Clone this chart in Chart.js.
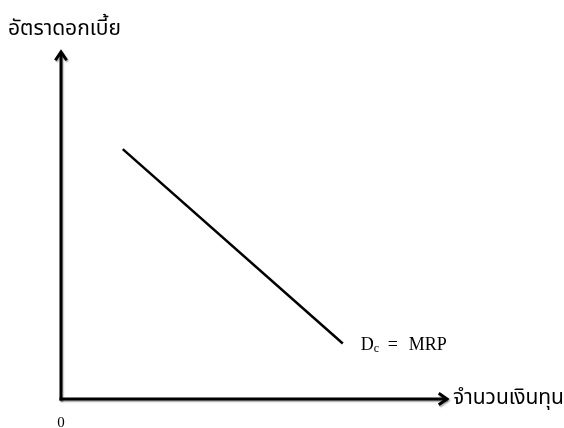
<!DOCTYPE html>
<html>
<head>
<meta charset="utf-8">
<script src="https://cdn.jsdelivr.net/npm/chart.js@4"></script>
<style>
  html, body { margin: 0; padding: 0; background: #fff; }
  #wrap { width: 564px; height: 428px; }
</style>
</head>
<body>
<div id="wrap"><canvas id="c" width="564" height="428"></canvas></div>
<script>
	// ******************************************************** DATA

	var demandX = [16, 73];
	var demandY = [72, 16];
	var yTitle = 'อัตราดอกเบี้ย';
	var xTitle = 'จำนวนเงินทุน';
	var originLabel = '0';
	var curveLabel = ['D', 'c', '=', 'MRP'];

	var points = demandX.map(function (x, i) { return {x: x, y: demandY[i]}; });

	// ******************************************************** AXES + TEXT

	function arrow(ctx, x1, y1, x2, y2) {
		var a = Math.atan2(y2 - y1, x2 - x1), h = 10;
		ctx.beginPath();
		ctx.moveTo(x1, y1);
		ctx.lineTo(x2, y2);
		ctx.stroke();
		ctx.beginPath();
		ctx.moveTo(x2 - h * Math.cos(a - 0.6), y2 - h * Math.sin(a - 0.6));
		ctx.lineTo(x2, y2);
		ctx.lineTo(x2 - h * Math.cos(a + 0.6), y2 - h * Math.sin(a + 0.6));
		ctx.stroke();
	}

	var axesPlugin = {
		id: 'axes',
		afterDraw: function (chart) {
			var ctx = chart.ctx, xs = chart.scales.x, ys = chart.scales.y;
			var x0 = xs.getPixelForValue(0), y0 = ys.getPixelForValue(0);
			var xEnd = xs.getPixelForValue(100), yEnd = ys.getPixelForValue(100);
			ctx.save();
			ctx.strokeStyle = '#000';
			ctx.lineWidth = 3;
			ctx.lineCap = 'butt';
			ctx.lineJoin = 'miter';
			ctx.shadowColor = 'rgba(0,0,0,0.35)';
			ctx.shadowOffsetX = 1;
			ctx.shadowOffsetY = 1.5;
			ctx.shadowBlur = 1.5;
			arrow(ctx, x0, y0 + 1.5, x0, yEnd);
			arrow(ctx, x0 - 1.5, y0, xEnd, y0);
			ctx.restore();

			ctx.save();
			ctx.fillStyle = '#000';
			ctx.textBaseline = 'middle';
			ctx.font = '21px "Noto Sans Thai", "Noto Sans", "DejaVu Sans", sans-serif';
			ctx.textAlign = 'left';
			ctx.fillText(yTitle, 8, 31);
			ctx.fillText(xTitle, xEnd + 6, y0 + 1);

			ctx.font = '15px "Liberation Serif", serif';
			ctx.textAlign = 'center';
			ctx.fillText(originLabel, x0, y0 + 24);

			// Dc = MRP, placed just right of the lower end of the curve
			var lx = xs.getPixelForValue(demandX[1]) + 18;
			var ly = ys.getPixelForValue(demandY[1]) + 2;
			ctx.textAlign = 'left';
			ctx.font = '18px "Liberation Serif", serif';
			ctx.fillText(curveLabel[0], lx, ly);
			var w = ctx.measureText(curveLabel[0]).width;
			ctx.font = '12px "Liberation Serif", serif';
			ctx.fillText(curveLabel[1], lx + w, ly + 3);
			ctx.font = '18px "Liberation Serif", serif';
			ctx.fillText(curveLabel[2], lx + 27, ly);
			ctx.fillText(curveLabel[3], lx + 48, ly);
			ctx.restore();
		}
	};

	// ******************************************************** CHART

	var _ctx = document.getElementById('c').getContext('2d');

	window.myChart = new Chart(_ctx, {
		type: 'scatter',
		data: {
			datasets: [{
				data: points,
				showLine: true,
				borderColor: '#000',
				borderWidth: 2.5,
				pointRadius: 0,
				fill: false
			}]
		},
		options: {
			responsive: false,
			animation: false,
			layout: { padding: { left: 61, right: 117, top: 52, bottom: 29 } },
			plugins: { legend: { display: false }, tooltip: { enabled: false } },
			scales: {
				x: { type: 'linear', min: 0, max: 100, display: false },
				y: { type: 'linear', min: 0, max: 100, display: false }
			}
		},
		plugins: [axesPlugin]
	});
</script>
</body>
</html>
